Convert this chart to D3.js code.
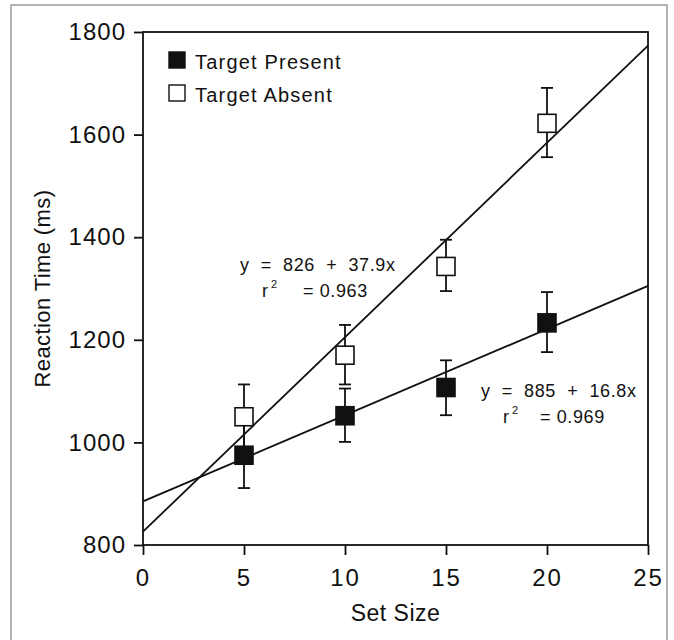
<!DOCTYPE html>
<html>
<head>
<meta charset="utf-8">
<script src="https://cdn.jsdelivr.net/npm/d3@7"></script>
<style>
  body { margin: 0; background: #fff; }
  text { font-family: "Liberation Sans", Arial, sans-serif; fill: #111; }
</style>
</head>
<body>
<div id="chart"></div>
<script>
// Set sizes and reaction times (ms)
const setSizes = [5, 10, 15, 20]
const presentMean = [975, 1052, 1107, 1233]
const presentLow = [911, 1001, 1053, 1176]
const presentHigh = [1040, 1105, 1160, 1293]
const absentMean = [1050, 1170, 1343, 1622]
const absentLow = [985, 1113, 1295, 1556]
const absentHigh = [1113, 1229, 1395, 1691]

// Regression fits: [intercept, slope]
const fitAbsent = [826, 37.9]
const fitPresent = [885, 16.8]

const xTicks = [0, 5, 10, 15, 20, 25]
const yTicks = [800, 1000, 1200, 1400, 1600, 1800]

const W = 674, H = 640
const margin = {top: 32, right: 26, bottom: 95, left: 143}

const svg = d3.select('#chart').append('svg')
    .attr('width', W)
    .attr('height', H)

// outer frame of the scanned figure
svg.append('rect')
    .attr('x', 11).attr('y', 5)
    .attr('width', 656).attr('height', 660)
    .attr('fill', 'none')
    .attr('stroke', '#999')
    .attr('stroke-width', 1.5)

const x = d3.scaleLinear().domain([0, 25]).range([margin.left, W - margin.right])
const y = d3.scaleLinear().domain([800, 1800]).range([H - margin.bottom, margin.top])

// x axis
const xAxis = svg.append('g')
    .attr('transform', `translate(0,${y(800)})`)
    .call(d3.axisBottom(x).tickValues(xTicks).tickSize(10).tickPadding(14).tickFormat(d3.format('d')))
xAxis.select('.domain').remove()
xAxis.selectAll('line').attr('stroke', '#111').attr('stroke-width', 1.8)
xAxis.selectAll('text')
    .style('font-size', '24px')
    .style('letter-spacing', '2px')
    .style('font-family', '"Liberation Sans", Arial, sans-serif')
    .attr('fill', '#111')

// y axis
const yAxis = svg.append('g')
    .attr('transform', `translate(${x(0)},0)`)
    .call(d3.axisLeft(y).tickValues(yTicks).tickSize(9).tickPadding(8).tickFormat(d3.format('d')))
yAxis.select('.domain').remove()
yAxis.selectAll('line').attr('stroke', '#111').attr('stroke-width', 1.8)
yAxis.selectAll('text')
    .style('font-size', '24px')
    .style('letter-spacing', '1px')
    .style('font-family', '"Liberation Sans", Arial, sans-serif')
    .attr('fill', '#111')

// plot box
svg.append('rect')
    .attr('x', x(0)).attr('y', y(1800))
    .attr('width', x(25) - x(0)).attr('height', y(800) - y(1800))
    .attr('fill', 'none')
    .attr('stroke', '#111')
    .attr('stroke-width', 1.8)

// axis titles
svg.append('text')
    .attr('x', (x(0) + x(25)) / 2)
    .attr('y', 621)
    .attr('text-anchor', 'middle')
    .style('font-size', '23px')
    .style('letter-spacing', '0.5px')
    .text('Set Size')

svg.append('text')
    .attr('transform', `translate(50,${(y(800) + y(1800)) / 2}) rotate(-90)`)
    .attr('text-anchor', 'middle')
    .style('font-size', '22px')
    .style('letter-spacing', '0.4px')
    .text('Reaction Time (ms)')

// fit lines
const fits = [fitAbsent, fitPresent]
svg.selectAll('.fit')
    .data(fits)
    .join('line')
    .attr('class', 'fit')
    .attr('x1', x(0)).attr('y1', d => y(d[0]))
    .attr('x2', x(25)).attr('y2', d => y(d[0] + d[1] * 25))
    .attr('stroke', '#111')
    .attr('stroke-width', 1.8)

// error bars + squares
const series = [
    {mean: presentMean, low: presentLow, high: presentHigh, fill: '#111'},
    {mean: absentMean, low: absentLow, high: absentHigh, fill: '#fff'}
]
const cap = 6, sq = 18

series.forEach(s => {
    const pts = setSizes.map((v, i) => ({x: v, m: s.mean[i], lo: s.low[i], hi: s.high[i]}))
    const g = svg.append('g')
    g.selectAll('.bar')
        .data(pts)
        .join('line')
        .attr('x1', d => x(d.x)).attr('x2', d => x(d.x))
        .attr('y1', d => y(d.lo)).attr('y2', d => y(d.hi))
        .attr('stroke', '#111').attr('stroke-width', 1.8)
    g.selectAll('.capHi')
        .data(pts)
        .join('line')
        .attr('x1', d => x(d.x) - cap).attr('x2', d => x(d.x) + cap)
        .attr('y1', d => y(d.hi)).attr('y2', d => y(d.hi))
        .attr('stroke', '#111').attr('stroke-width', 1.8)
    g.selectAll('.capLo')
        .data(pts)
        .join('line')
        .attr('x1', d => x(d.x) - cap).attr('x2', d => x(d.x) + cap)
        .attr('y1', d => y(d.lo)).attr('y2', d => y(d.lo))
        .attr('stroke', '#111').attr('stroke-width', 1.8)
    s.g = g
    s.pts = pts
})

series.forEach(s => {
    s.g.selectAll('rect')
        .data(s.pts)
        .join('rect')
        .attr('x', d => x(d.x) - sq / 2)
        .attr('y', d => y(d.m) - sq / 2)
        .attr('width', sq).attr('height', sq)
        .attr('fill', s.fill)
        .attr('stroke', '#111')
        .attr('stroke-width', 1.6)
})

// legend
const legend = [
    {label: 'Target Present', fill: '#111'},
    {label: 'Target Absent', fill: '#fff'}
]
const lg = svg.append('g').attr('transform', 'translate(169,52)')
lg.selectAll('rect')
    .data(legend)
    .join('rect')
    .attr('x', 0).attr('y', (d, i) => i * 33)
    .attr('width', 16).attr('height', 16)
    .attr('fill', d => d.fill)
    .attr('stroke', '#111').attr('stroke-width', 1.4)
lg.selectAll('text')
    .data(legend)
    .join('text')
    .attr('x', 26).attr('y', (d, i) => i * 33 + 17)
    .style('font-size', '20px')
    .style('letter-spacing', '1.2px')
    .text(d => d.label)

// regression annotations
function annot(px, py, fit, r2, r2dx) {
    const t = svg.append('g')
    t.append('text')
        .attr('x', px).attr('y', py)
        .style('font-size', '18px')
        .style('letter-spacing', '0.6px')
        .style('white-space', 'pre')
        .text(`y  =  ${fit[0]}  +  ${fit[1]}x`)
    t.append('text')
        .attr('x', px + 22).attr('y', py + 26)
        .style('font-size', '18px')
        .text('r')
    t.append('text')
        .attr('x', px + 31).attr('y', py + 17)
        .style('font-size', '11px')
        .text('2')
    t.append('text')
        .attr('x', px + r2dx).attr('y', py + 26)
        .style('font-size', '18px')
        .style('letter-spacing', '0.6px')
        .text(`= ${r2}`)
}
annot(240, 271, fitAbsent, '0.963', 63)
annot(481, 397, fitPresent, '0.969', 59)
</script>
</body>
</html>
